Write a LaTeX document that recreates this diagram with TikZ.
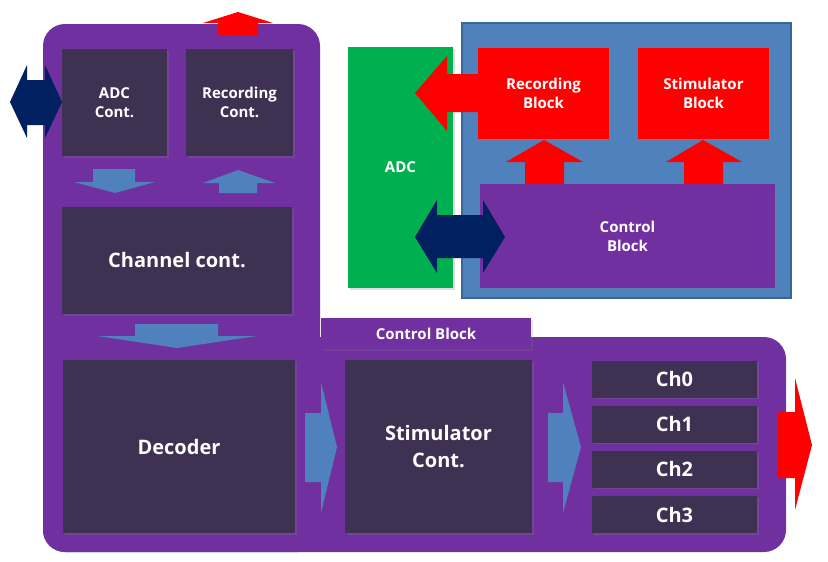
\documentclass[tikz,border=0pt]{standalone}
\usepackage{fontspec}
\setmainfont{Open Sans}
\usetikzlibrary{shadows}

\definecolor{purp}{HTML}{7030A0}
\definecolor{darkbox}{HTML}{3F3151}
\definecolor{lblue}{HTML}{4F81BD}
\definecolor{bgblue}{HTML}{4F81BD}
\definecolor{bgline}{HTML}{3A6599}
\definecolor{navy}{HTML}{002060}
\definecolor{adcgreen}{HTML}{00B050}
\definecolor{redfill}{HTML}{FF0000}

\begin{document}
\begin{tikzpicture}[x=1pt, y=-1pt]
	\tikzset{box/.style = {fill=darkbox, text=white, align=center, inner sep=0pt,
		drop shadow={opacity=0.25, shadow xshift=1.5pt, shadow yshift=-1.5pt}}}
	\tikzset{small/.style = {font=\bfseries\fontsize{15}{19}\selectfont}}
	\tikzset{big/.style = {font=\bfseries\fontsize{20}{27}\selectfont}}
	\tikzset{redbox/.style = {box, fill=redfill}}
	\tikzset{bluearr/.style = {fill=lblue}}
	\tikzset{redarr/.style = {fill=redfill}}
	\tikzset{navyarr/.style = {fill=navy}}
	\useasboundingbox (0,0) rectangle (828,562);
	\fill[white] (0,0) rectangle (828,562);
	% purple frame (left column + bottom row)
	\fill[purp, rounded corners=22] (43,24) rectangle (320,552);
	\fill[purp, rounded corners=22] (43,337) rectangle (786,552);
	\node[fill=purp, minimum width=210, minimum height=31, inner sep=0pt, text=white,
		font=\bfseries\fontsize{15}{18}\selectfont,
		drop shadow={opacity=0.2, shadow xshift=1.5pt, shadow yshift=-1.5pt}] (tab) at (426,333.5) {Control Block};
	% left blocks
	\node[box, small, minimum width=105, minimum height=107] (adcc) at (114.5,102.5) {ADC\\Cont.};
	\node[box, small, minimum width=107, minimum height=107] (recc) at (239.5,102.5) {Recording\\Cont.};
	\node[box, big, minimum width=230, minimum height=107] (chan) at (177,260.5) {Channel cont.};
	\node[box, big, minimum width=232, minimum height=173] (dec) at (179,446.5) {Decoder};
	\node[box, big, minimum width=187, minimum height=173] (stim) at (438.5,446.5) {Stimulator\\Cont.};
	\node[box, big, minimum width=165, minimum height=37] (ch0) at (674.5,379) {Ch0};
	\node[box, big, minimum width=165, minimum height=37] (ch1) at (674.5,424) {Ch1};
	\node[box, big, minimum width=165, minimum height=37] (ch2) at (674.5,469) {Ch2};
	\node[box, big, minimum width=165, minimum height=37] (ch3) at (674.5,514.5) {Ch3};
	% right side
	\draw[fill=bgblue, draw=bgline, line width=1.2pt] (462,23) rectangle (791,298);
	\node[box, small, fill=adcgreen, minimum width=105, minimum height=241] (adc) at (400.5,167.5) {ADC};
	\node[redbox, small, minimum width=131, minimum height=91] (recb) at (543.5,93.5) {Recording\\Block};
	\node[redbox, small, minimum width=131, minimum height=91] (stimb) at (703.5,93.5) {Stimulator\\Block};
	\node[box, small, fill=purp, minimum width=295, minimum height=104] (ctrl) at (627.5,236) {Control\\Block};
	% block arrows
	\fill[redarr] (218,35) -- (218,23) -- (203,23) -- (238,12) -- (273,23) -- (258,23) -- (258,35) -- cycle;
	\fill[navyarr] (10,102) -- (27,65) -- (27,80) -- (45,80) -- (45,65) -- (62,102)
		-- (45,138) -- (45,125) -- (27,125) -- (27,138) -- cycle;
	\fill[bluearr] (93,169) -- (135,169) -- (135,182) -- (155,182) -- (115,193) -- (74,182) -- (93,182) -- cycle;
	\fill[bluearr] (219,193) -- (257,193) -- (257,183) -- (275,183) -- (238,170) -- (203,183) -- (219,183) -- cycle;
	\fill[bluearr] (135,324) -- (218,324) -- (218,336) -- (257,336) -- (177,348) -- (97,336) -- (135,336) -- cycle;
	\fill[bluearr] (305,413) -- (321,413) -- (321,382) -- (337,447) -- (321,513) -- (321,482) -- (305,482) -- cycle;
	\fill[bluearr] (548,413) -- (563,413) -- (563,382) -- (581,447) -- (563,513) -- (563,482) -- (548,482) -- cycle;
	\fill[redarr] (778,412) -- (795,412) -- (795,378) -- (812,445) -- (795,510) -- (795,478) -- (778,478) -- cycle;
	\fill[redarr] (478,74) -- (447,74) -- (447,56) -- (415,93) -- (447,131) -- (447,112) -- (478,112) -- cycle;
	\fill[redarr] (525,184) -- (525,162) -- (506,162) -- (544,140) -- (583,162) -- (564,162) -- (564,184) -- cycle;
	\fill[redarr] (684,184) -- (684,162) -- (666,162) -- (703,140) -- (742,162) -- (723,162) -- (723,184) -- cycle;
	\fill[navyarr] (415,237) -- (437,200) -- (437,215) -- (483,215) -- (483,200) -- (505,237)
		-- (483,273) -- (483,258) -- (437,258) -- (437,273) -- cycle;
\end{tikzpicture}
\end{document}
